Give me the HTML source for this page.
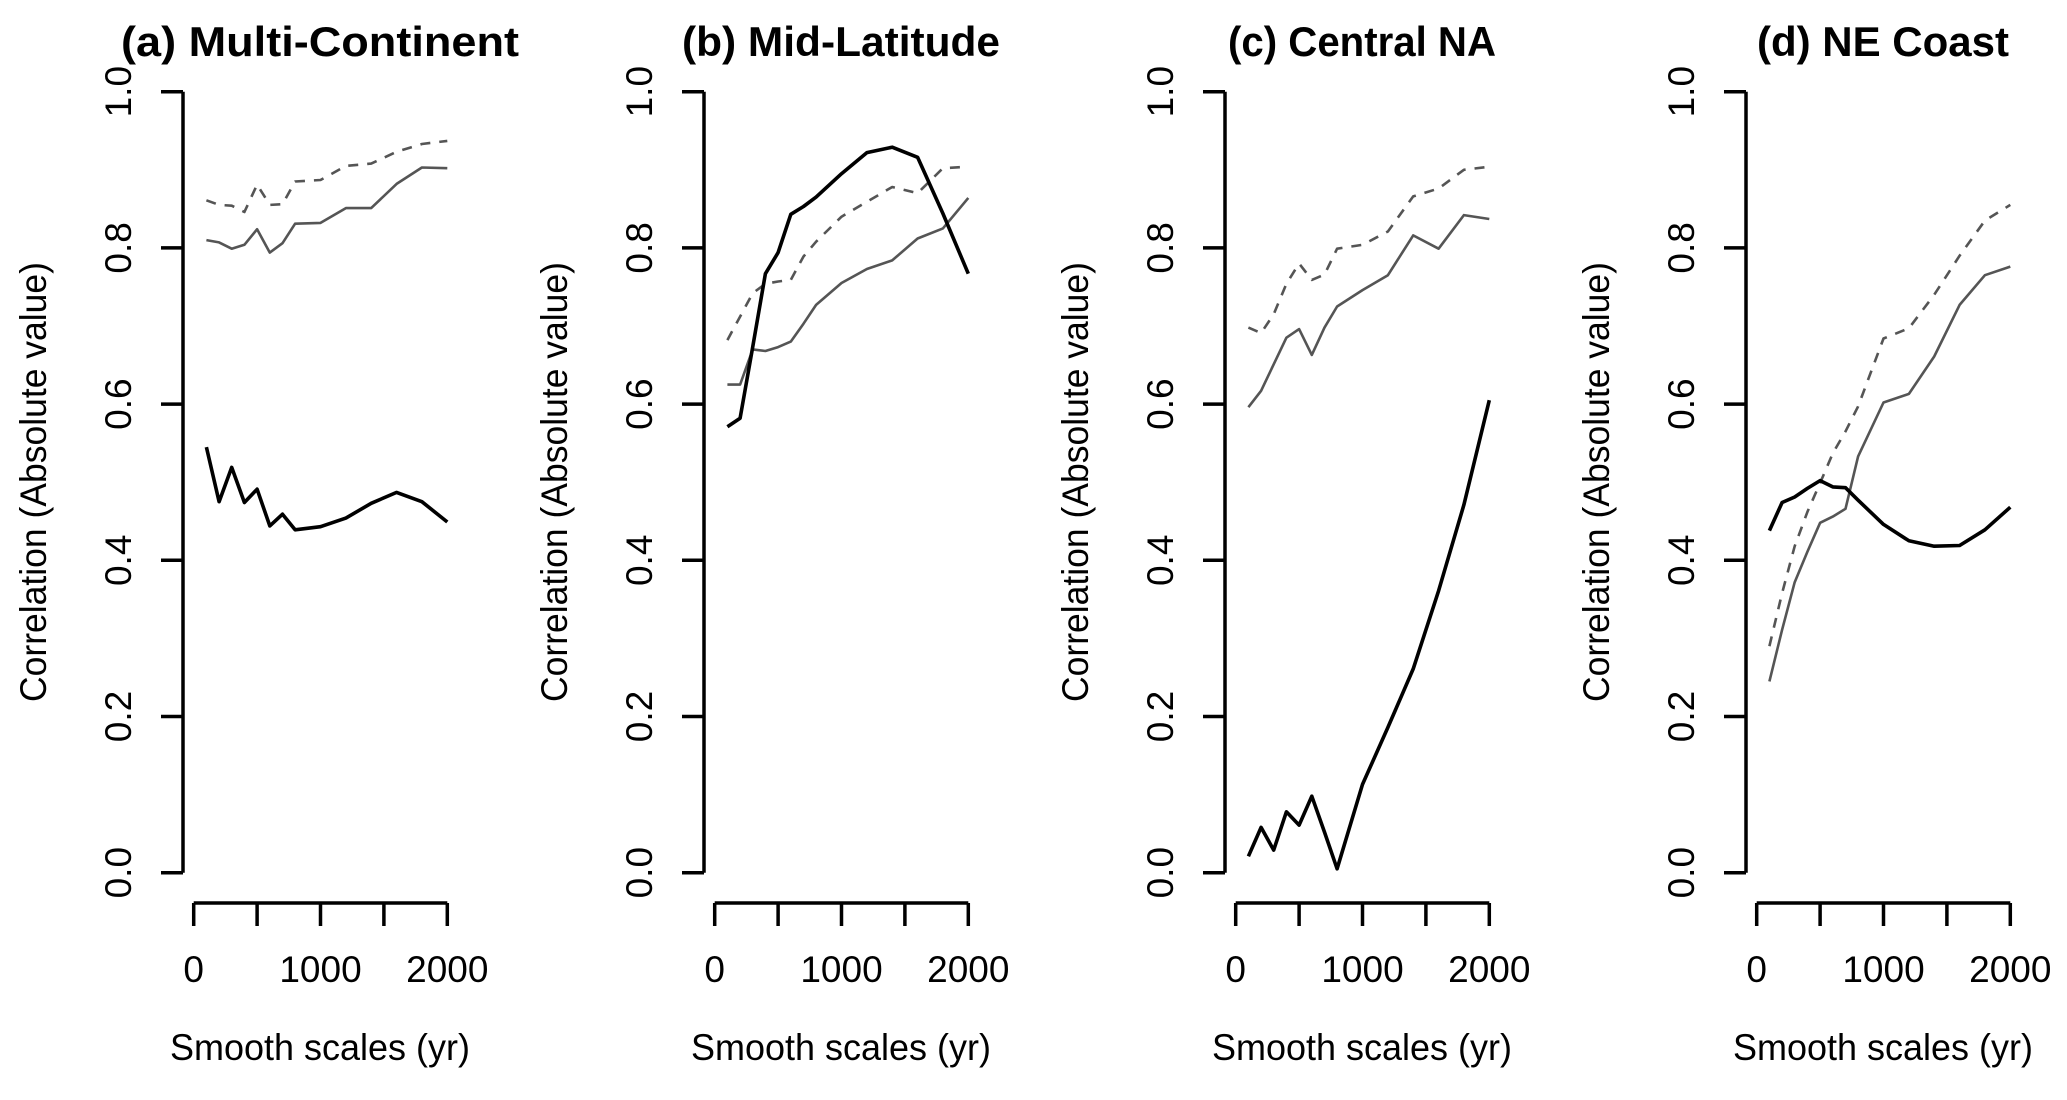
<!DOCTYPE html>
<html><head><meta charset="utf-8"><style>
html,body{margin:0;padding:0;background:#fff;}
svg text{font-family:"Liberation Sans",Arial,sans-serif;fill:#000;}
</style></head><body>
<svg id="fig" width="2067" height="1095" viewBox="0 0 2067 1095" xmlns="http://www.w3.org/2000/svg"></svg>
<script>
const xScales = [100,200,300,400,500,600,700,800,1000,1200,1400,1600,1800,2000];
const panelTitles = ["(a) Multi-Continent","(b) Mid-Latitude","(c) Central NA","(d) NE Coast"];
const titleWidths = [398,318,268,252];
const yTicks = [0,0.2,0.4,0.6,0.8,1.0];
const yTickLabels = ["0.0","0.2","0.4","0.6","0.8","1.0"];
const xTicks = [0,500,1000,1500,2000];
const xTickLabels = ["0","","1000","","2000"];
const aBlack = [0.545,0.475,0.519,0.474,0.491,0.444,0.459,0.439,0.443,0.454,0.473,0.487,0.475,0.449];
const aGray  = [0.810,0.807,0.799,0.804,0.824,0.794,0.806,0.831,0.832,0.851,0.851,0.882,0.903,0.902];
const aDash  = [0.861,0.855,0.854,0.846,0.881,0.855,0.856,0.885,0.887,0.905,0.908,0.923,0.933,0.937];
const bBlack = [0.571,0.582,0.673,0.767,0.794,0.843,0.853,0.865,0.895,0.922,0.929,0.916,0.844,0.767];
const bGray  = [0.625,0.625,0.670,0.668,0.673,0.680,0.703,0.727,0.755,0.773,0.784,0.812,0.825,0.864];
const bDash  = [0.682,0.712,0.742,0.754,0.757,0.759,0.789,0.808,0.840,0.859,0.878,0.870,0.902,0.904];
const cBlack = [0.021,0.058,0.029,0.078,0.061,0.098,0.052,0.005,0.113,0.186,0.261,0.361,0.471,0.605];
const cGray  = [0.596,0.617,0.651,0.685,0.696,0.663,0.698,0.725,0.746,0.765,0.816,0.799,0.842,0.837];
const cDash  = [0.698,0.691,0.715,0.754,0.780,0.759,0.766,0.799,0.804,0.821,0.866,0.876,0.900,0.904];
const dBlack = [0.438,0.474,0.481,0.492,0.502,0.494,0.493,0.477,0.446,0.425,0.418,0.419,0.439,0.468];
const dGray  = [0.245,0.311,0.372,0.411,0.448,0.456,0.466,0.533,0.602,0.613,0.661,0.727,0.765,0.776];
const dDash  = [0.290,0.358,0.418,0.462,0.499,0.537,0.565,0.597,0.684,0.697,0.740,0.790,0.835,0.855];

const panelSeries = [[aBlack,aGray,aDash],[bBlack,bGray,bDash],[cBlack,cGray,cDash],[dBlack,dGray,dDash]];
const NS="http://www.w3.org/2000/svg";
const svg=document.getElementById('fig');
function mk(tag,attrs,parent){const e=document.createElementNS(NS,tag);for(const k in attrs)e.setAttribute(k,attrs[k]);(parent||svg).appendChild(e);return e;}
const axisXs=[183,704,1225,1746];
const pxPerYr=253.6/2000;
const y0=872.7, yPer=781;
const seriesNames=['reconstruction-line','gray-solid-line','gray-dashed-line'];
panelTitles.forEach((title,p)=>{
  const ax=axisXs[p];
  const x0=ax+10.7;
  const X=v=>x0+v*pxPerYr;
  const Y=v=>y0-v*yPer;
  const g=mk('g',{});
  
  
  const t=mk('text',{x:ax+137,y:56,'text-anchor':'middle','font-size':42,'font-weight':'bold',textLength:titleWidths[p],lengthAdjust:'spacingAndGlyphs'},g);
  
  
  t.textContent=title;
  const ya=mk('g',{},g);
  
  
  mk('line',{x1:ax,y1:Y(0),x2:ax,y2:Y(1),stroke:'#000','stroke-width':3.5},ya);
  yTicks.forEach((v,i)=>{
    mk('line',{x1:ax-22,y1:Y(v),x2:ax,y2:Y(v),stroke:'#000','stroke-width':3.5},ya);
    const tl=mk('text',{x:0,y:0,'text-anchor':'middle','font-size':37,transform:`translate(${ax-52},${Y(v)}) rotate(-90)`},ya);
    
    
    tl.textContent=yTickLabels[i];
  });
  const yl=mk('text',{x:0,y:0,'text-anchor':'middle','font-size':37,textLength:440,lengthAdjust:'spacingAndGlyphs',transform:`translate(${ax-137},482) rotate(-90)`},g);
  
  
  yl.textContent='Correlation (Absolute value)';
  const xa=mk('g',{},g);
  
  
  mk('line',{x1:X(0),y1:903,x2:X(2000),y2:903,stroke:'#000','stroke-width':3.5},xa);
  xTicks.forEach((v,i)=>{
    mk('line',{x1:X(v),y1:903,x2:X(v),y2:926,stroke:'#000','stroke-width':3.5},xa);
    if(xTickLabels[i]){
      const tl=mk('text',{x:X(v),y:982,'text-anchor':'middle','font-size':37},xa);
      
      
      tl.textContent=xTickLabels[i];
    }
  });
  const xl=mk('text',{x:ax+137,y:1060,'text-anchor':'middle','font-size':37,textLength:300,lengthAdjust:'spacingAndGlyphs'},g);
  
  
  xl.textContent='Smooth scales (yr)';
  const styles=[{stroke:'#000','stroke-width':3.6},{stroke:'#555','stroke-width':2.6},{stroke:'#555','stroke-width':2.6,'stroke-dasharray':'10 9'}];
  [2,1,0].forEach(s=>{
    const vals=panelSeries[p][s];
    const pts=vals.map((v,i)=>X(xScales[i]).toFixed(1)+','+Y(v).toFixed(1)).join(' ');
    const pl=mk('polyline',Object.assign({points:pts,fill:'none','stroke-linejoin':'round'},styles[s]),g);
    
    
  });
});
</script>
</body></html>
